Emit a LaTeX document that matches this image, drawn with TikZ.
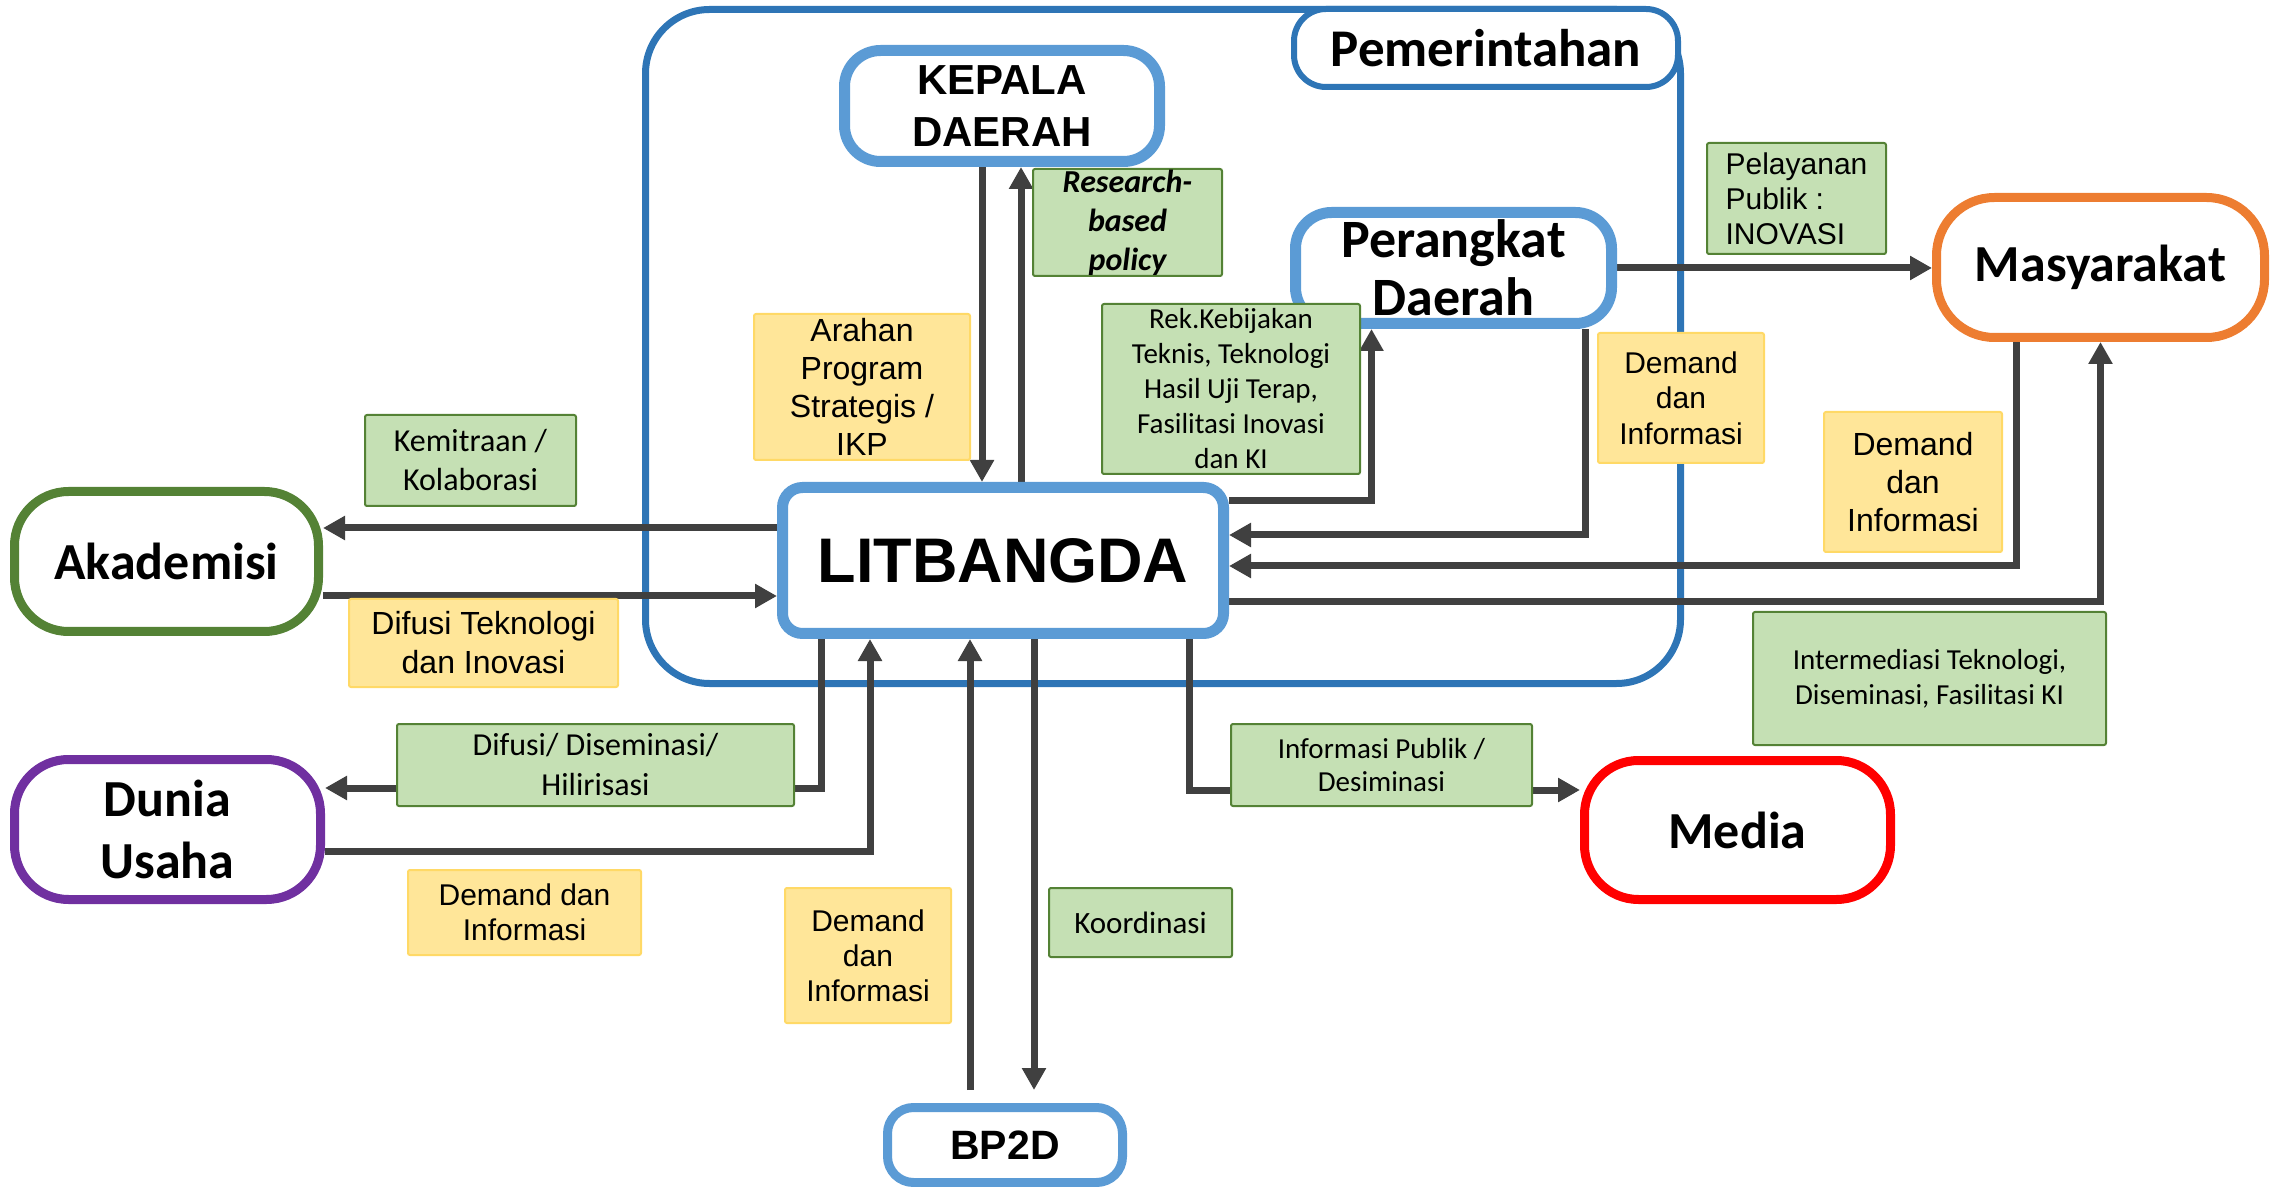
\documentclass[tikz,border=0pt]{standalone}
\usepackage{fontspec}
\setmainfont{Liberation Sans}
\newfontfamily\calib{Carlito}
\usetikzlibrary{arrows.meta,backgrounds}

\definecolor{frameblue}{HTML}{2E75B6}
\definecolor{lightblue}{HTML}{5B9BD5}
\definecolor{grfill}{HTML}{C5E0B4}
\definecolor{grline}{HTML}{548235}
\definecolor{yefill}{HTML}{FFE699}
\definecolor{yeline}{HTML}{FFD966}
\definecolor{arrgray}{HTML}{404040}
\definecolor{orline}{HTML}{ED7D31}
\definecolor{puline}{HTML}{7030A0}

\begin{document}
\begin{tikzpicture}[x=0.5pt,y=-0.5pt,
	actor/.style={draw,fill=white,align=center,inner sep=0pt,line width=4.5pt,rounded corners=27pt,
		minimum width=153pt,minimum height=70pt,font=\calib\bfseries\fontsize{26}{31}\selectfont},
	blueactor/.style={actor,draw=lightblue,line width=5.5pt,rounded corners=18pt},
	greenlab/.style={draw=grline,fill=grfill,line width=1pt,rounded corners=1pt,align=center,inner sep=0pt,
		font=\calib\fontsize{14.5}{17.5}\selectfont},
	yellab/.style={draw=yeline,fill=yefill,line width=1pt,rounded corners=1pt,align=center,inner sep=0pt,
		font=\fontsize{15}{17.6}\selectfont},
	flow/.style={draw=arrgray,line width=3.5pt,-{Triangle[length=11pt,width=11.5pt]}}]
	\useasboundingbox (0,0) rectangle (2272,1187);

	% actors
	\node[actor,draw=frameblue,line width=3pt,rounded corners=16pt,minimum width=192pt,minimum height=39pt,
		font=\calib\bfseries\fontsize{26.5}{30}\selectfont] (pemtxt) at (1486,48) {Pemerintahan};
	\node[blueactor,minimum width=157.5pt,minimum height=55.5pt,
		font=\bfseries\fontsize{21}{25.8}\selectfont] (kepala) at (1002,106) {KEPALA\\DAERAH};
	\node[blueactor,minimum width=158pt,minimum height=55.5pt,
		font=\calib\bfseries\fontsize{27}{29}\selectfont] (perangkat) at (1453.5,268) {Perangkat\\Daerah};
	\node[blueactor,rounded corners=10pt,minimum width=220.5pt,minimum height=73pt,
		font=\bfseries\fontsize{31.5}{36}\selectfont] (litbangda) at (1003,560.5) {LITBANGDA};
	\node[blueactor,line width=4.5pt,rounded corners=13pt,minimum width=117.5pt,minimum height=37.5pt,
		font=\bfseries\fontsize{20.5}{24}\selectfont] (bp2d) at (1005,1145) {BP2D};
	\node[actor,draw=orline,minimum width=164pt,rounded corners=29pt] (masyarakat) at (2100.5,267.5) {Masyarakat};
	\node[actor,draw=grline,minimum width=152pt] (akademisi) at (166.5,561.5) {Akademisi};
	\node[actor,draw=puline] (dunia) at (167.5,829.5) {Dunia\\Usaha};
	\node[actor,draw=red,minimum height=69.5pt] (media) at (1737.5,830) {Media};

	% labels
	\node[greenlab,minimum width=94.5pt,minimum height=53.5pt,
		font=\calib\bfseries\itshape\fontsize{16}{19.5}\selectfont] (research) at (1127.5,222.5) {Research-\\based\\policy};
	\node[yellab,minimum width=108pt,minimum height=73pt,font=\fontsize{16}{19}\selectfont] (arahan) at (862,387)
		{Arahan\\Program\\Strategis /\\IKP};
	\node[greenlab,minimum width=129pt,minimum height=85pt] (rek) at (1231,389)
		{Rek.Kebijakan\\Teknis, Teknologi\\Hasil Uji Terap,\\Fasilitasi Inovasi\\dan KI};
	\node[yellab,minimum width=83pt,minimum height=65pt,font=\fontsize{15}{17.8}\selectfont] (demand1) at (1681,398)
		{Demand\\dan\\Informasi};
	\node[greenlab,align=left,minimum width=89.5pt,minimum height=55.5pt,font=\fontsize{15}{17.4}\selectfont] (pelayanan)
		at (1796.5,198.5) {Pelayanan\\Publik :\\INOVASI};
	\node[yellab,minimum width=89pt,minimum height=70pt,font=\fontsize{16}{18.8}\selectfont] (demand2) at (1913,482)
		{Demand\\dan\\Informasi};
	\node[greenlab,minimum width=176.5pt,minimum height=66.5pt] (intermediasi) at (1929.5,678.5)
		{Intermediasi Teknologi,\\Diseminasi, Fasilitasi KI};
	\node[greenlab,minimum width=105.5pt,minimum height=45.5pt,font=\calib\fontsize{16}{19.5}\selectfont] (kemitraan)
		at (470.5,460.5) {Kemitraan /\\Kolaborasi};
	\node[yellab,minimum width=134.5pt,minimum height=44pt,font=\fontsize{16}{19.5}\selectfont] (difusitek) at (483.5,643)
		{Difusi Teknologi\\dan Inovasi};
	\node[greenlab,minimum width=198.5pt,minimum height=41pt,font=\calib\fontsize{16}{20}\selectfont] (difusi)
		at (595.5,765) {Difusi/ Diseminasi/\\Hilirisasi};
	\node[yellab,minimum width=116.5pt,minimum height=42.5pt] (demand3) at (524.5,912.5) {Demand dan\\Informasi};
	\node[yellab,minimum width=83pt,minimum height=67.5pt] (demand4) at (868,955.5) {Demand\\dan\\Informasi};
	\node[greenlab,minimum width=91.5pt,minimum height=34.5pt,font=\calib\fontsize{15.5}{18}\selectfont] (koordinasi)
		at (1140.5,922.5) {Koordinasi};
	\node[greenlab,minimum width=150.5pt,minimum height=41pt,font=\calib\fontsize{14.5}{16.7}\selectfont] (infopublik)
		at (1381.5,765) {Informasi Publik /\\Desiminasi};

	\begin{scope}[on background layer]
		\draw[frameblue,line width=3.5pt,rounded corners=32pt] (645.5,9.5) rectangle (1680.5,683.5);
		% kepala daerah
		\draw[flow] ([xshift=-10pt]kepala.south) -- ([xshift=-10pt]kepala.south |- litbangda.north);
		\draw[flow] ([xshift=9.5pt]kepala.south |- litbangda.north) -- ([xshift=9.5pt]kepala.south);
		% perangkat daerah
		\draw[flow] ([yshift=30pt]litbangda.east) -| ([xshift=-41pt]perangkat.south);
		\draw[flow] ([xshift=66pt]perangkat.south) |- ([yshift=12.75pt]litbangda.east);
		\draw[flow] (perangkat.east) -- (perangkat.east -| masyarakat.west);
		% masyarakat
		\draw[flow] ([xshift=-42.25pt]masyarakat.south) |- ([yshift=-2.75pt]litbangda.east);
		\draw[flow] ([yshift=-20.75pt]litbangda.east) -| (masyarakat.south);
		% media
		\draw[flow] ([xshift=93pt]litbangda.south) |- ([yshift=20pt]media.west);
		% akademisi
		\draw[flow] ([yshift=16.25pt]litbangda.west) -- ([yshift=16.25pt]litbangda.west -| akademisi.east);
		\draw[flow] ([yshift=-17.25pt]akademisi.east) -- ([yshift=-17.25pt]akademisi.east -| litbangda.west);
		% dunia usaha
		\draw[flow] ([xshift=-91pt]litbangda.south) |- ([yshift=20.75pt]dunia.east);
		\draw[flow] ([yshift=-10.75pt]dunia.east) -| ([xshift=-66.5pt]litbangda.south);
		% bp2d
		\draw[flow] ([xshift=-17.5pt,yshift=6.5pt]bp2d.north) -- ([xshift=-17.5pt]bp2d.north |- litbangda.south);
		\draw[flow] ([xshift=14.5pt]bp2d.north |- litbangda.south) -- ([xshift=14.5pt,yshift=6.5pt]bp2d.north);
	\end{scope}
\end{tikzpicture}
\end{document}
